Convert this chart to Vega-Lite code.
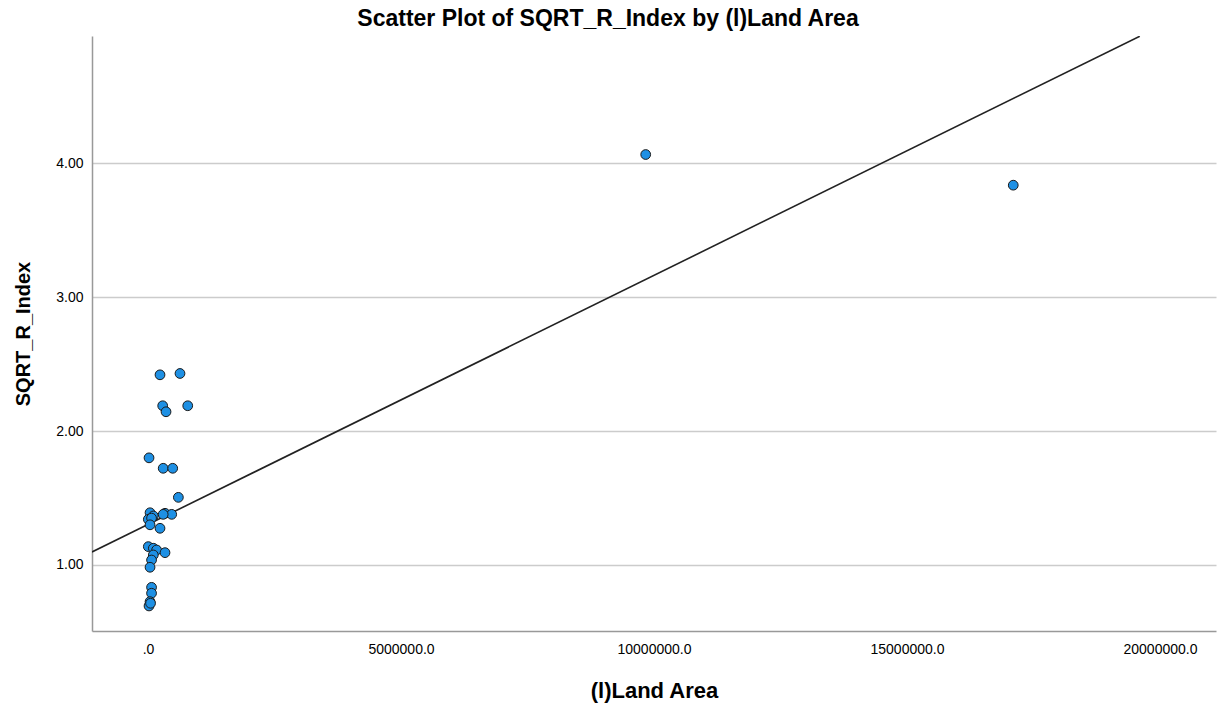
{
  "$schema": "https://vega.github.io/schema/vega-lite/v6.json",
  "autosize": {"type": "none"},
  "width": 1124,
  "height": 595,
  "padding": {"left": 92, "top": 36, "right": 3, "bottom": 75},
  "background": "white",
  "config": {
    "view": {"stroke": null},
    "font": "Liberation Sans"
  },
  "title": {
    "text": "Scatter Plot of SQRT_R_Index by (l)Land Area",
    "font": "Liberation Sans",
    "fontSize": 23,
    "fontWeight": "bold",
    "color": "#000000",
    "anchor": "middle",
    "dx": -46,
    "offset": 5
  },
  "datasets": {
    "points": [
      {"area": 9836000, "sqrt_r": 4.065},
      {"area": 17100000, "sqrt_r": 3.836},
      {"area": 237000, "sqrt_r": 2.42},
      {"area": 632000, "sqrt_r": 2.43},
      {"area": 290000, "sqrt_r": 2.189},
      {"area": 356000, "sqrt_r": 2.144},
      {"area": 785000, "sqrt_r": 2.189},
      {"area": 20000, "sqrt_r": 1.80},
      {"area": 300000, "sqrt_r": 1.722},
      {"area": 488000, "sqrt_r": 1.722},
      {"area": 600000, "sqrt_r": 1.505},
      {"area": 40000, "sqrt_r": 1.39},
      {"area": 105000, "sqrt_r": 1.366},
      {"area": 6000, "sqrt_r": 1.341},
      {"area": 70000, "sqrt_r": 1.35},
      {"area": 336000, "sqrt_r": 1.386},
      {"area": 468000, "sqrt_r": 1.378},
      {"area": 300000, "sqrt_r": 1.378},
      {"area": 40000, "sqrt_r": 1.30},
      {"area": 237000, "sqrt_r": 1.274},
      {"area": 6000, "sqrt_r": 1.137},
      {"area": 105000, "sqrt_r": 1.125},
      {"area": 170000, "sqrt_r": 1.112},
      {"area": 336000, "sqrt_r": 1.092},
      {"area": 105000, "sqrt_r": 1.075},
      {"area": 70000, "sqrt_r": 1.037},
      {"area": 40000, "sqrt_r": 0.983},
      {"area": 70000, "sqrt_r": 0.833},
      {"area": 70000, "sqrt_r": 0.789},
      {"area": 40000, "sqrt_r": 0.726},
      {"area": 20000, "sqrt_r": 0.694},
      {"area": 50000, "sqrt_r": 0.714}
    ],
    "fit": [
      {"area": -1107000, "sqrt_r": 1.097},
      {"area": 19600000, "sqrt_r": 4.948}
    ]
  },
  "layer": [
    {
      "data": {"name": "fit"},
      "mark": {"type": "line", "color": "#222222", "strokeWidth": 1.6, "clip": true},
      "encoding": {
        "x": {"field": "area", "type": "quantitative"},
        "y": {"field": "sqrt_r", "type": "quantitative"}
      }
    },
    {
      "data": {"name": "points"},
      "mark": {"type": "point", "shape": "circle", "filled": true, "size": 95, "fill": "#1e90e4", "stroke": "#1a1a1a", "strokeWidth": 1, "opacity": 1},
      "encoding": {
        "x": {
          "field": "area", "type": "quantitative",
          "scale": {"domain": [-1107000, 21107000], "nice": false, "zero": false},
          "axis": {
            "title": "(l)Land Area",
            "titleFont": "Liberation Sans", "titleFontSize": 22, "titleFontWeight": "bold", "titleColor": "#000",
            "titlePadding": 24,
            "values": [0, 5000000, 10000000, 15000000, 20000000],
            "labelExpr": "datum.value == 0 ? '.0' : format(datum.value, '.1f')",
            "labelFontSize": 14, "labelColor": "#000", "labelPadding": 11,
            "ticks": false, "grid": false,
            "domainColor": "#999999", "domainWidth": 1.5
          }
        },
        "y": {
          "field": "sqrt_r", "type": "quantitative",
          "scale": {"domain": [0.507, 4.95], "nice": false, "zero": false},
          "axis": {
            "title": "SQRT_R_Index",
            "titleFont": "Liberation Sans", "titleFontSize": 20, "titleFontWeight": "bold", "titleColor": "#000",
            "titlePadding": 22,
            "values": [1, 2, 3, 4],
            "format": ".2f",
            "labelFontSize": 14, "labelColor": "#000", "labelPadding": 9,
            "ticks": false, "grid": true, "gridColor": "#cccccc", "gridWidth": 1.5,
            "domainColor": "#999999", "domainWidth": 1.5
          }
        }
      }
    }
  ]
}
